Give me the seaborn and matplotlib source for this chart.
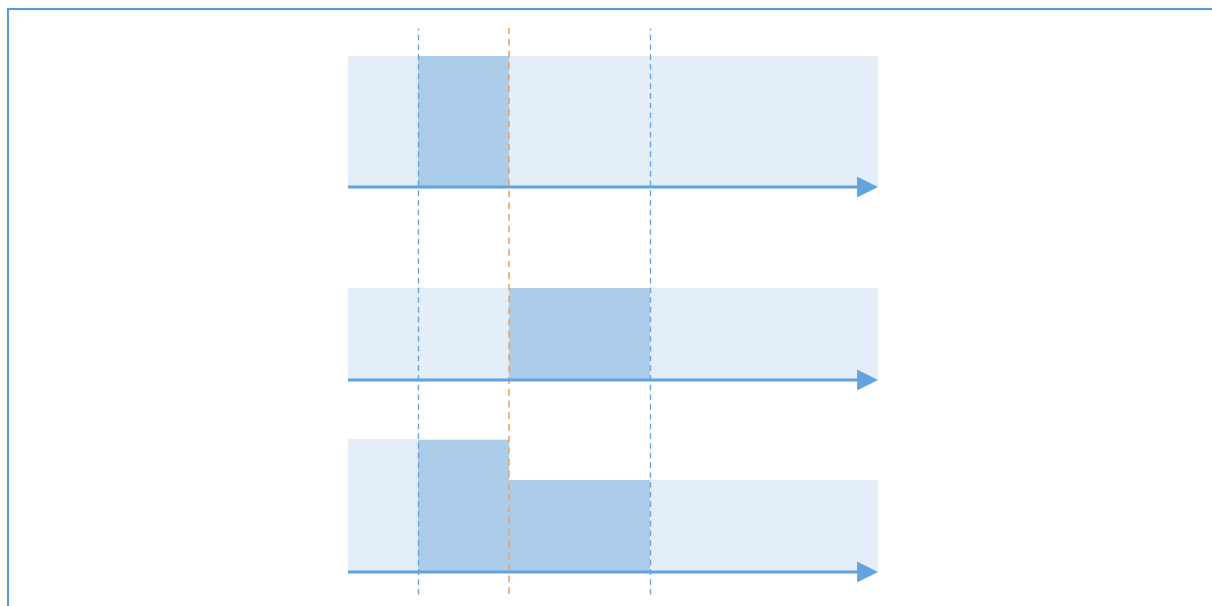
import matplotlib
matplotlib.use("Agg")
import matplotlib.pyplot as plt
import seaborn as sns
import pandas as pd
from matplotlib.patches import Rectangle

sns.set_theme(style="white")

# ---- data (time axis 0..10, lane heights in arbitrary units) ----
axis_start = 0.0
axis_end = 10.0
event_times = [1.32, 3.04, 5.70]          # dashed markers
event_kinds = ["blue", "orange", "blue"]
lanes = ["A", "B", "C"]
lane_base = [419, 226, 34]

# background (light) blocks: lane, start, end, height
bg_lane = ["A", "B", "C", "C"]
bg_start = [0.0, 0.0, 0.0, 3.04]
bg_end = [10.0, 10.0, 3.04, 10.0]
bg_height = [131, 92, 133, 92]

# active (dark) blocks: lane, start, end, height
act_lane = ["A", "B", "C", "C"]
act_start = [1.32, 3.04, 1.32, 3.04]
act_end = [3.04, 5.70, 3.04, 5.70]
act_height = [131, 92, 132, 92]

bg = pd.DataFrame(dict(lane=bg_lane, start=bg_start, end=bg_end, h=bg_height))
act = pd.DataFrame(dict(lane=act_lane, start=act_start, end=act_end, h=act_height))
base = dict(zip(lanes, lane_base))

LIGHT = "#e4eef8"
DARK = "#abcde9"
ARROW = "#62a5de"
BLUE_D = "#6aa6dc"
ORANGE_D = "#f4a468"
BORDER = "#5b9bd5"

W, H = 1212, 606
fig = plt.figure(figsize=(W / 100, H / 100), dpi=100)
fig.patch.set_facecolor("white")
ax = fig.add_axes([0, 0, 1, 1])
px = 53.0  # pixels per time unit
x0 = 348.0
ax.set_xlim(-x0 / px, (W - x0) / px)
ax.set_ylim(0, H)
ax.axis("off")

for df, col, z in [(bg, LIGHT, 1), (act, DARK, 2)]:
    ax.bar(df["start"], df["h"], width=df["end"] - df["start"],
           bottom=[base[l] for l in df["lane"]], align="edge",
           color=col, linewidth=0, zorder=z)

for t, k in zip(event_times, event_kinds):
    ax.plot([t, t], [12, 578], color=ORANGE_D if k == "orange" else BLUE_D,
            lw=1.2 if k == "orange" else 1.0, ls=(0, (4, 3)), zorder=4)

for l in lanes:
    y = base[l]
    ax.annotate("", xy=(axis_end, y), xytext=(axis_start, y),
                arrowprops=dict(arrowstyle="-|>,head_length=1.0,head_width=0.5",
                                mutation_scale=11.5, lw=2.2, color=ARROW,
                                shrinkA=0, shrinkB=0, capstyle="butt",
                                joinstyle="miter"),
                zorder=5)

# frame border (top and left)
fig.patches.append(Rectangle((8 / W, -0.1), 1.2, (H - 9) / H + 0.1,
                             transform=fig.transFigure, fill=False,
                             edgecolor=BORDER, lw=1.5, zorder=10))

fig.savefig("out.png", dpi=100, facecolor="white")
